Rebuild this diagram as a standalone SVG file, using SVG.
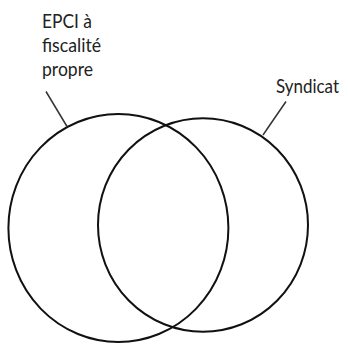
<svg xmlns="http://www.w3.org/2000/svg" width="348" height="344" viewBox="0 0 348 344">
<style>
.c{fill:none;stroke:#111;stroke-width:2}
.l{stroke:#333;stroke-width:1.5}
text{font-family:Lato,"Open Sans","Liberation Sans",sans-serif;font-size:20px;fill:#222}
</style>
<rect width="348" height="344" fill="#fff"/>
<g id="epci">
<ellipse class="c" cx="118.4" cy="228" rx="110" ry="114"/>
<text x="42" y="28" textLength="50" lengthAdjust="spacingAndGlyphs">EPCI à</text>
<text x="42" y="52" textLength="59" lengthAdjust="spacingAndGlyphs">fiscalité</text>
<text x="42" y="76" textLength="51" lengthAdjust="spacingAndGlyphs">propre</text>
</g>
<g id="syndicat">
<ellipse class="c" cx="203" cy="225" rx="105" ry="106.7"/>
<text x="276" y="93" font-size="19" textLength="63" lengthAdjust="spacingAndGlyphs">Syndicat</text>
</g>
<g id="connectors">
<line class="l" x1="46" y1="91.5" x2="67" y2="126.5"/>
<line class="l" x1="286" y1="101.5" x2="263" y2="135"/>
</g>
</svg>
